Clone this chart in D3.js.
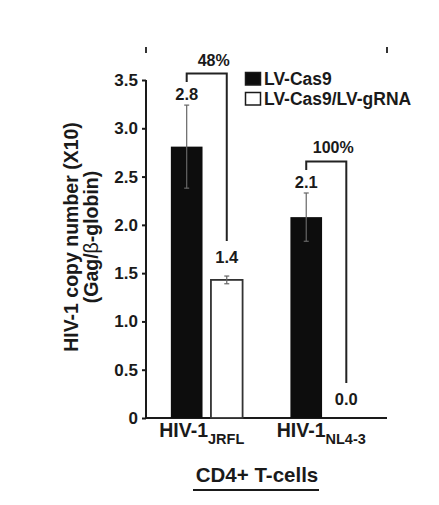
<!DOCTYPE html>
<html>
<head>
<meta charset="utf-8">
<script src="https://cdn.jsdelivr.net/npm/d3@7"></script>
<style>
  html, body { margin: 0; padding: 0; background: #fff; }
  svg text { font-family: "Liberation Sans", Arial, sans-serif; font-weight: bold; fill: #1a1a1a; }
</style>
</head>
<body>
<svg id="chart" width="439" height="505"></svg>
<script>
// ---- data ----
const categories = ["JRFL", "NL4-3"];
const seriesNames = ["LV-Cas9", "LV-Cas9/LV-gRNA"];
const cas9Values = [2.81, 2.08];
const cas9Errors = [0.43, 0.25];
const grnaValues = [1.43, 0.0];
const grnaErrors = [0.04, 0.0];
const reductionLabels = ["48%", "100%"];
const yTicks = [0, 0.5, 1.0, 1.5, 2.0, 2.5, 3.0, 3.5];

const svg = d3.select("#chart");
const ink = "#1a1a1a";

const x0 = d3.scaleBand().domain(categories).range([146, 387]).paddingInner(0.40).paddingOuter(0.208);
const x1 = d3.scaleBand().domain(seriesNames).range([0, x0.bandwidth()]).paddingInner(0.21).paddingOuter(0);
const y = d3.scaleLinear().domain([0, 3.5]).range([418, 80]);

const rows = categories.map((c, i) => ({
  cat: c,
  bars: [
    { s: seriesNames[0], v: cas9Values[i], e: cas9Errors[i] },
    { s: seriesNames[1], v: grnaValues[i], e: grnaErrors[i] }
  ],
  pct: reductionLabels[i]
}));

// top stubs
svg.selectAll("line.stub").data(x0.range()).join("line")
  .attr("x1", d => d).attr("x2", d => d).attr("y1", 47).attr("y2", 53)
  .attr("stroke", "#333").attr("stroke-width", 2);

// y axis
const yAxis = d3.axisLeft(y).tickValues(yTicks)
  .tickFormat(d => d === 0 ? "0" : d3.format(".1f")(d))
  .tickSize(4).tickPadding(4);
const gy = svg.append("g").attr("transform", "translate(146,0)").call(yAxis);
gy.select(".domain").attr("stroke", ink).attr("stroke-width", 2).attr("d", `M0,${y(3.5)}V${y(0)}`);
gy.selectAll(".tick line").attr("stroke", ink).attr("stroke-width", 2);
gy.selectAll(".tick text").style("font-size", "17px").attr("fill", ink);

// baseline
svg.append("line").attr("x1", 145).attr("x2", x0.range()[1])
  .attr("y1", y(0)).attr("y2", y(0)).attr("stroke", ink).attr("stroke-width", 2);

// y title
const yt = svg.append("text").attr("transform", `translate(78,${237}) rotate(-90)`)
  .attr("text-anchor", "middle").style("font-size", "19.5px");
yt.append("tspan").attr("x", 0).attr("y", 0).text("HIV-1 copy number (X10)");
const l2 = yt.append("tspan").attr("x", 0).attr("y", 20);
l2.append("tspan").text("(Gag/");
l2.append("tspan").style("font-weight", "normal").text("β");
l2.append("tspan").text("-globin)");

// bars
const g = svg.selectAll("g.grp").data(rows).join("g")
  .attr("transform", d => `translate(${x0(d.cat)},0)`);

g.selectAll("rect").data(d => d.bars).join("rect")
  .attr("x", d => x1(d.s)).attr("width", x1.bandwidth())
  .attr("y", d => y(d.v)).attr("height", d => y(0) - y(d.v))
  .attr("fill", (d, i) => i === 0 ? "#0d0d0d" : "#fff")
  .attr("stroke", (d, i) => i === 0 ? "none" : "#333")
  .attr("stroke-width", 1.8);

// error bars
const eb = g.selectAll("g.err").data(d => d.bars.filter(b => b.e > 0)).join("g")
  .attr("transform", d => `translate(${x1(d.s) + x1.bandwidth() / 2},0)`);
eb.append("line").attr("y1", d => y(d.v - d.e)).attr("y2", d => y(d.v + d.e))
  .attr("stroke", "#666").attr("stroke-width", 1.2);
eb.append("line").attr("x1", -2.5).attr("x2", 2.5).attr("y1", d => y(d.v + d.e)).attr("y2", d => y(d.v + d.e))
  .attr("stroke", "#666").attr("stroke-width", 1.2);
eb.append("line").attr("x1", -2.5).attr("x2", 2.5).attr("y1", d => y(d.v - d.e)).attr("y2", d => y(d.v - d.e))
  .attr("stroke", "#666").attr("stroke-width", 1.2);

// value labels
const labelBase = (b, i) => y(b.v + b.e) - (i === 0 ? 5 : 13);
g.selectAll("text.val").data(d => d.bars).join("text")
  .attr("class", "val")
  .attr("x", d => x1(d.s) + x1.bandwidth() / 2)
  .attr("y", (d, i) => labelBase(d, i))
  .attr("text-anchor", "middle").style("font-size", "16.5px")
  .text(d => d3.format(".1f")(d.v));

// brackets
g.each(function(d) {
  const sel = d3.select(this);
  const xa = x1(d.bars[0].s) + x1.bandwidth() / 2;
  const xb = x1(d.bars[1].s) + x1.bandwidth() / 2;
  const leftEnd = labelBase(d.bars[0], 0) - 18;
  const top = leftEnd - 8.5;
  const rightEnd = labelBase(d.bars[1], 1) - 22;
  sel.append("path")
    .attr("d", `M${xa},${leftEnd}V${top}H${xb}V${rightEnd}`)
    .attr("fill", "none").attr("stroke", "#222").attr("stroke-width", 2);
  sel.append("text").attr("x", (xa + xb) / 2 + 7).attr("y", top - 8)
    .attr("text-anchor", "middle").style("font-size", "16px").text(d.pct);
});

// x category labels
const xl = svg.selectAll("text.xcat").data(rows).join("text")
  .attr("class", "xcat")
  .attr("x", d => x0(d.cat) + x0.bandwidth() / 2 - 5)
  .attr("y", 437).attr("text-anchor", "middle").style("font-size", "19.5px");
xl.append("tspan").text("HIV-1");
xl.append("tspan").attr("dy", 7).style("font-size", "14.5px").text(d => d.cat);

// x title
svg.append("text").attr("x", 257).attr("y", 482).attr("text-anchor", "middle")
  .style("font-size", "20.5px").text("CD4+ T-cells");
svg.append("line").attr("x1", 193).attr("x2", 319).attr("y1", 490).attr("y2", 490)
  .attr("stroke", ink).attr("stroke-width", 2);

// legend
const lg = svg.append("g").attr("transform", "translate(245,72)");
const li = lg.selectAll("g").data(seriesNames).join("g")
  .attr("transform", (d, i) => `translate(0,${i * 20})`);
li.append("rect").attr("x", 0.5).attr("y", 0.5).attr("width", 15).attr("height", 12.5)
  .attr("fill", (d, i) => i === 0 ? "#0d0d0d" : "#fff")
  .attr("stroke", "#1a1a1a").attr("stroke-width", 1.5);
li.append("text").attr("x", 19).attr("y", 13).style("font-size", "17.5px").text(d => d);
</script>
</body>
</html>
